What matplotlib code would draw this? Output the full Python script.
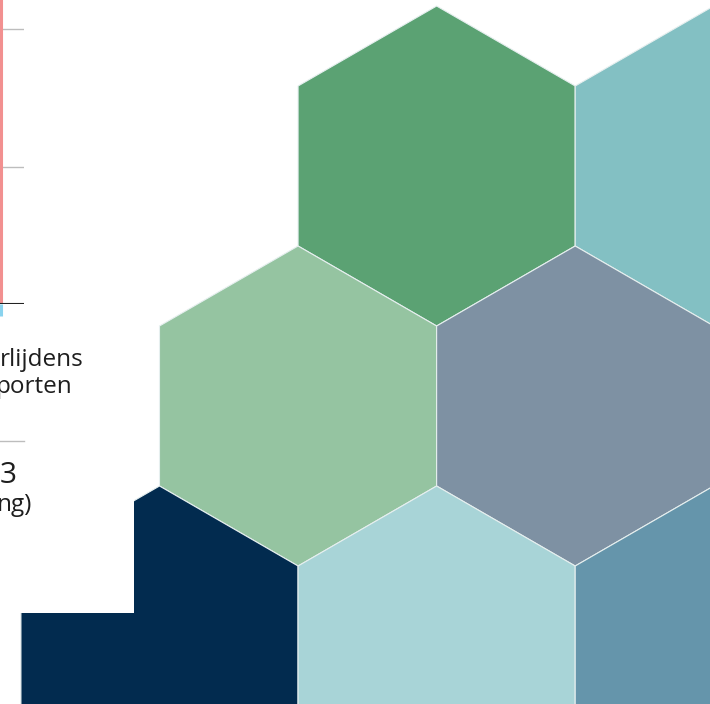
import numpy as np
import matplotlib
matplotlib.use("Agg")
import matplotlib.pyplot as plt
from matplotlib.patches import Polygon, Rectangle

# hexagon tiles: column / row in the honeycomb grid and their fill
hex_cols = [1.0, 2.0, 0.5, 1.5, 0.0, 1.0, 2.0]
hex_rows = [0, 0, 1, 1, 2, 2, 2]
hex_colors = ["#5BA273", "#83C0C3", "#95C4A1", "#7E91A3",
              "#022B4F", "#A8D4D7", "#6595AB"]

# partial chart on the left (only the edge is visible)
grid_values = [1, 2]
red_x = [0, 0]
red_y = [0, 2.3]
cyan_x = [0, 0]
cyan_y = [-0.09, 0]

# text fragments, visible part only
text_lines = ["rlijdens", "porten", "3", "ng)"]
text_sizes = [17.5, 17.5, 21.5, 17.5]

W, H = 710, 704
fig = plt.figure(figsize=(W / 100, H / 100), dpi=100)
ax = fig.add_axes([0, 0, 1, 1])
ax.set_xlim(0, W)
ax.set_ylim(H, 0)
ax.axis("off")

R = 160
x0, y0 = 159.5, 166
dx = np.sqrt(3) * R
dy = 1.5 * R

def hexagon(cx, cy, r):
    ang = np.radians(90 + 60 * np.arange(6))
    return np.column_stack([cx + r * np.cos(ang), cy - r * np.sin(ang)])

for c, r, col in zip(hex_cols, hex_rows, hex_colors):
    cx = x0 + c * dx
    cy = y0 + r * dy
    ax.add_patch(Polygon(hexagon(cx, cy, R), closed=True, facecolor=col,
                         edgecolor="#E6EFEF", linewidth=0.8, zorder=1))

# white panel of the report page covering the navy tile
ax.add_patch(Rectangle((0, 0), 134, 613, facecolor="white", edgecolor="none", zorder=2))

# separator line and text
ax.plot([0, 24], [441, 441], color="#BDBDBD", lw=1, zorder=3)
text_right = [84, 73, 17, 32]
text_base = [366, 393, 483, 511]
for s, fs, xr, yb in zip(text_lines, text_sizes, text_right, text_base):
    ax.text(xr, yb, s, ha="right", va="baseline", fontsize=fs,
            family="Open Sans", color="#1E1E1E", zorder=4)

# chart fragment
cax = fig.add_axes([0, 1 - 304 / H, 24 / W, 304 / H])
cax.set_xlim(-0.06, 1)
cax.set_ylim(0, 304 / 137.5)
cax.axis("off")
for g in grid_values:
    cax.axhline(g, color="#BDBDBD", lw=1)
cax.plot(red_x, red_y, color="#F29090", lw=2.2, solid_capstyle="butt")
cax.plot(cyan_x, cyan_y, color="#8AD3EE", lw=2.2, clip_on=False, solid_capstyle="butt")
cax.axhline(0, color="#222222", lw=1.5)

fig.savefig("out.png", dpi=100)
